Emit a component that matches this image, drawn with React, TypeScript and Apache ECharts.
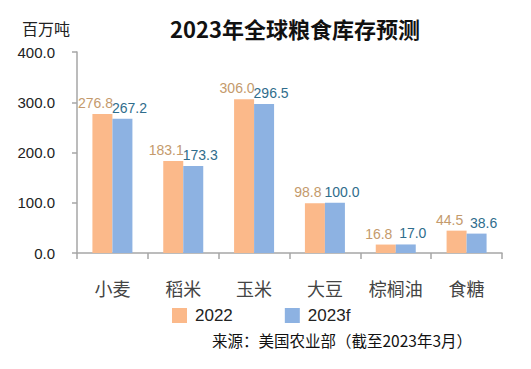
import React, { useEffect, useRef } from "react";
import * as echarts from "echarts";

const categories = ["小麦", "稻米", "玉米", "大豆", "棕榈油", "食糖"];
const seriesNames = ["2022", "2023f"];
const values2022 = [276.8, 183.1, 306.0, 98.8, 16.8, 44.5];
const values2023 = [267.2, 173.3, 296.5, 100.0, 17.0, 38.6];
const titleText = "2023年全球粮食库存预测";
const unitText = "百万吨";
const sourceText = "来源：美国农业部（截至2023年3月）";

export default function App() {
  const ref = useRef<HTMLDivElement>(null);
  useEffect(() => {
    if (!ref.current) return;
    const chart = echarts.init(ref.current, null, { renderer: "svg" });
    const labelFont = "'Liberation Sans', Arial, sans-serif";
    chart.setOption({
      animation: false,
      backgroundColor: "#ffffff",
      title: {
        text: titleText,
        left: 290,
        textAlign: "center",
        top: 12,
        textStyle: {
          fontSize: 22,
          fontWeight: "bold",
          color: "#111",
          fontFamily: "'Noto Sans CJK SC', sans-serif",
        },
      },
      legend: {
        data: seriesNames,
        left: 167,
        top: 302,
        itemWidth: 15,
        itemHeight: 15,
        itemGap: 52,
        icon: "rect",
        textStyle: {
          fontSize: 17,
          color: "#222",
          fontFamily: labelFont,
          padding: [0, 0, 0, 3],
        },
      },
      grid: { left: 77, right: 29, top: 52, bottom: 116, containLabel: false },
      xAxis: {
        type: "category",
        data: categories,
        axisLine: { lineStyle: { color: "#a6a6a6", width: 1.5 } },
        axisTick: { show: true, length: 6, lineStyle: { color: "#a6a6a6", width: 1.5 } },
        axisLabel: {
          margin: 26,
          fontSize: 18,
          color: "#444",
          fontFamily: "'Noto Sans CJK SC', serif",
        },
      },
      yAxis: {
        type: "value",
        min: 0,
        max: 400,
        interval: 100,
        splitLine: { show: false },
        axisLine: { show: true, lineStyle: { color: "#a6a6a6", width: 1.5 } },
        axisTick: { show: true, length: 5, lineStyle: { color: "#a6a6a6", width: 1.5 } },
        axisLabel: {
          margin: 22,
          fontSize: 15,
          color: "#222",
          fontFamily: labelFont,
          formatter: (v: number) => v.toFixed(1),
        },
      },
      series: [
        {
          name: seriesNames[0],
          type: "bar",
          data: values2022,
          barWidth: 20,
          barGap: "0%",
          itemStyle: { color: "#FBB98A" },
          label: {
            show: true,
            position: "top",
            distance: 4,
            offset: [-7, 0],
            formatter: (p: any) => p.value.toFixed(1),
            fontSize: 14,
            color: "#C49A6C",
            fontFamily: labelFont,
          },
        },
        {
          name: seriesNames[1],
          type: "bar",
          data: values2023,
          barWidth: 20,
          barGap: "0%",
          itemStyle: { color: "#8DB2E2" },
          label: {
            show: true,
            position: "top",
            distance: 4,
            offset: [7, 0],
            formatter: (p: any) => p.value.toFixed(1),
            fontSize: 14,
            color: "#2F6D8C",
            fontFamily: labelFont,
          },
        },
      ],
      graphic: [
        {
          type: "text",
          left: 22,
          top: 20,
          style: {
            text: unitText,
            fontSize: 16,
            fill: "#222",
            fontFamily: "'Noto Sans CJK SC', sans-serif",
          },
        },
        {
          type: "text",
          left: 212,
          top: 332,
          style: {
            text: sourceText,
            fontSize: 15.5,
            fill: "#111",
            fontFamily: "'Noto Sans CJK SC', sans-serif",
          },
        },
      ],
    });
    return () => chart.dispose();
  }, []);
  return <div ref={ref} style={{ width: 531, height: 369, margin: -8 }} />;
}
